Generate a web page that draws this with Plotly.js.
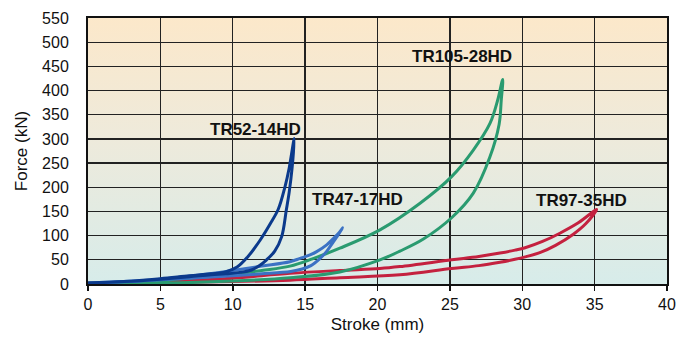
<!DOCTYPE html>
<html>
<head>
<meta charset="utf-8">
<script src="https://cdn.plot.ly/plotly-3.0.1.min.js"></script>
<style>
html,body{margin:0;padding:0;background:#fff;}
#wrap{position:relative;width:678px;height:338px;}
#bg{position:absolute;left:88px;top:18px;width:579px;height:266px;
 background:linear-gradient(to bottom,#fce8ca 0%,#eeeadb 45%,#d7ecea 100%);z-index:0;}
#chart{position:absolute;left:0;top:0;width:678px;height:338px;z-index:1;}
</style>
</head>
<body>
<div id="wrap"><div id="bg"></div><div id="chart"></div></div>
<script>
// TR52-14HD (loading then return)
const tr52X = [0, 2.5, 5, 7, 8.5, 9.5, 10.3, 11, 11.9, 12.6, 13.15, 13.6, 13.9, 14.25, 14.1, 13.9, 13.7, 13.38, 12.9, 12.34, 11.8, 11.3, 10.5, 9.5, 8.5, 7, 5, 2.5, 0];
const tr52F = [2, 5, 11, 17, 21, 25, 35, 55, 91, 125, 155, 200, 240, 301, 240, 190, 153, 98, 68, 50, 37, 29, 24, 21, 19, 15, 10, 5, 2];
// TR47-17HD
const tr47X = [0, 3, 5, 7, 10, 12, 13.95, 14.65, 15.34, 15.8, 16.49, 16.95, 17.4, 17.6, 17.2, 16.95, 16.5, 16.0, 15.4, 14.8, 14, 12, 10, 7, 5, 3, 0];
const tr47F = [2, 6, 10, 16, 28, 37, 46, 53, 60, 67, 81, 94, 108, 116, 98, 87, 68, 52, 38, 31, 26, 21, 17, 12, 9, 5, 2];
// TR105-28HD
const tr105X = [0, 3, 5, 7, 10, 12, 13.95, 15.5, 17.4, 20.17, 22.94, 25.12, 26.62, 27.77, 28.3, 28.65, 28.55, 28.4, 27.77, 26.62, 25.12, 23.17, 21.55, 20.17, 17.4, 13.95, 10, 7, 3, 0];
const tr105F = [2, 4, 7, 12, 20, 28, 37, 52, 74, 112, 167, 222, 277, 332, 380, 423, 380, 330, 263, 188, 137, 93, 68, 50, 25, 13, 6, 3, 2, 2];
// TR97-35HD
const tr97X = [0, 5, 7.4, 10, 13.95, 17.4, 20.17, 21.55, 25.12, 27, 28.46, 29.5, 30.2, 31.4, 32.6, 33.9, 35.14, 34.4, 33.53, 32.3, 31.3, 30.2, 29.5, 28.46, 27, 25.12, 21.55, 17.4, 13.95, 10, 5, 0];
const tr97F = [2, 5, 8, 12, 22, 28, 32, 36, 50, 57, 64, 70, 75, 88, 105, 127, 154, 125, 103, 80, 66, 56, 51, 45, 38, 32, 19, 13, 8, 5, 3, 2];

const seriesNames = ["TR52-14HD", "TR47-17HD", "TR105-28HD", "TR97-35HD"];
const seriesColors = ["#0b3a8c", "#3b72c4", "#2a9b70", "#c4213f"];
const labelX = [11.54, 18.65, 25.82, 34.06];
const labelY = [320, 174, 470, 172];

const xs = [tr52X, tr47X, tr105X, tr97X];
const ys = [tr52F, tr47F, tr105F, tr97F];
const order = [3, 2, 1, 0];
const traces = order.map(i => ({
  x: xs[i], y: ys[i], type: 'scatter', mode: 'lines', name: seriesNames[i],
  line: {color: seriesColors[i], width: 3, shape: 'spline', smoothing: 1},
  hoverinfo: 'skip'
}));

const annotations = seriesNames.map((n, i) => ({
  x: labelX[i], y: labelY[i], xref: 'x', yref: 'y', text: n, showarrow: false,
  font: {family: 'Liberation Sans, Arial, sans-serif', size: 17, color: '#111', weight: 'bold'},
  xanchor: 'center', yanchor: 'middle'
}));

const layout = {
  width: 678, height: 338,
  margin: {l: 88, r: 11, t: 18, b: 54, pad: 0},
  paper_bgcolor: 'rgba(0,0,0,0)', plot_bgcolor: 'rgba(0,0,0,0)',
  showlegend: false,
  font: {family: 'Liberation Sans, Arial, sans-serif', size: 16, color: '#111'},
  xaxis: {
    range: [0, 40], dtick: 5, tick0: 0, showgrid: true, gridcolor: '#222', gridwidth: 1.3,
    zeroline: false, showline: true, linecolor: '#111', linewidth: 2, mirror: true,
    ticks: 'outside', ticklen: 5, tickcolor: '#111', tickwidth: 1.5,
    title: {text: 'Stroke (mm)', font: {size: 17}, standoff: 6},
    fixedrange: true
  },
  yaxis: {
    range: [0, 550], dtick: 50, tick0: 0, showgrid: true, gridcolor: '#222', gridwidth: 1.3,
    zeroline: false, showline: true, linecolor: '#111', linewidth: 2, mirror: true,
    ticks: '', ticklabelstandoff: 14,
    title: {text: 'Force (kN)', font: {size: 17}, standoff: 10},
    fixedrange: true
  },
  annotations: annotations
};

Plotly.newPlot('chart', traces, layout, {displayModeBar: false, staticPlot: true});
</script>
</body>
</html>
